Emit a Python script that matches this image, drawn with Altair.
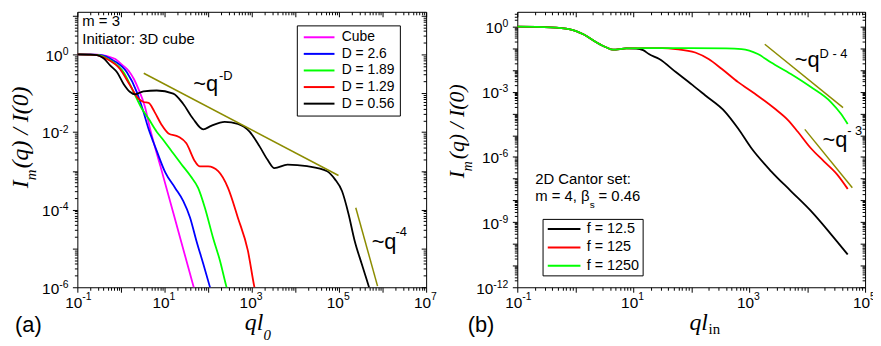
import altair as alt
import pandas as pd

SANS = "Liberation Sans"
SERIF = "Liberation Serif"
GOLD = "#8C8C00"

# ---------------- panel (a): log10(q l0) and log10(I_m(q)/I(0))
a_series = ["Cube", "D = 2.6", "D = 1.89", "D = 1.29", "D = 0.56"]
a_colors = ["#FF00FF", "#0000FF", "#00FF00", "#FF0000", "#000000"]

cube_lq = [-1.0, -0.7, -0.455, -0.3, -0.13, 0.03, 0.175, 0.30, 0.40, 0.55, 0.666, 0.90, 1.20, 1.66, 1.72]
cube_lI = [0.0, -0.002, -0.01, -0.05, -0.12, -0.27, -0.42, -0.64, -0.89, -1.35, -1.91, -2.86, -4.08, -5.96, -6.2]

blue_lq = [-1.0, -0.5, -0.166, 0.136, 0.364, 0.516, 0.63, 0.74, 0.825, 1.016, 1.243, 1.43, 1.584, 1.73, 1.886, 2.04, 2.08]
blue_lI = [0.0, -0.01, -0.16, -0.46, -0.97, -1.48, -1.91, -2.25, -2.50, -3.04, -3.44, -3.78, -4.20, -4.80, -5.39, -5.99, -6.15]

green_lq = [-1.0, -0.545, -0.25, 0.06, 0.29, 0.48, 0.636, 0.82, 0.94, 1.166, 1.386, 1.60, 1.77, 1.925, 2.11, 2.27, 2.42, 2.46]
green_lI = [0.0, -0.01, -0.15, -0.46, -0.97, -1.40, -1.66, -1.99, -2.16, -2.50, -2.83, -3.14, -3.44, -3.95, -4.715, -5.31, -5.99, -6.15]

red_lq = [-1.0, -0.61, -0.32, -0.023, 0.205, 0.40, 0.516, 0.636, 0.77, 0.93, 1.09, 1.32, 1.50, 1.70, 1.81, 2.0, 2.23, 2.455, 2.68, 2.91, 3.06, 3.10]
red_lI = [0.0, -0.01, -0.12, -0.375, -0.79, -1.14, -1.225, -1.25, -1.48, -1.81, -2.035, -2.12, -2.29, -2.76, -2.885, -2.885, -3.01, -3.44, -4.20, -5.05, -5.99, -6.2]

black_lq = [-1.0, -0.7, -0.55, -0.4, -0.243, -0.09, 0.06, 0.21, 0.325, 0.516, 0.82, 1.20, 1.425, 1.65, 1.886, 2.07, 2.38, 2.68, 2.95, 3.18, 3.36, 3.52, 3.82, 4.27, 4.73, 4.91, 5.07, 5.22, 5.36, 5.52, 5.69, 5.74]
black_lI = [0.0, -0.005, -0.02, -0.1, -0.29, -0.46, -0.76, -0.97, -1.03, -0.95, -0.93, -1.01, -1.27, -1.65, -1.93, -1.84, -1.74, -1.79, -1.99, -2.37, -2.71, -2.93, -2.84, -2.88, -3.01, -3.22, -3.52, -4.11, -4.80, -5.39, -6.0, -6.2]

# guide lines (~q^-D and ~q^-4)
a_guide_lq = [[0.523, 4.99], [5.386, 5.886]]
a_guide_lI = [[-0.485, -3.12], [-3.95, -5.97]]

# tick-label exponents
a_xlab = [-1, 1, 3, 5, 7]
a_ylab = [0, -2, -4, -6]

# ---------------- panel (b)
b_series = ["f = 12.5", "f = 125", "f = 1250"]
b_colors = ["#000000", "#FF0000", "#00FF00"]

common_lq = [-1.0, -0.43, -0.09, 0.14, 0.37, 0.54, 0.65, 0.88]
common_lI = [0.0, -0.03, -0.12, -0.35, -0.73, -0.96, -1.06, -1.00]

f12_lq = [1.05, 1.17, 1.27, 1.45, 1.735, 2.02, 2.24, 2.585, 2.81, 3.04, 3.38, 3.72, 4.065, 4.41, 4.70]
f12_lI = [-1.01, -1.08, -1.26, -1.49, -2.09, -2.68, -3.16, -3.92, -4.69, -5.60, -6.66, -7.57, -8.485, -9.55, -10.49]

f125_lq = [1.2, 1.5, 1.73, 2.07, 2.30, 2.53, 2.81, 3.10, 3.44, 3.67, 3.84, 4.065, 4.29, 4.52, 4.70]
f125_lI = [-0.99, -0.99, -1.03, -1.19, -1.49, -1.95, -2.555, -3.09, -3.77, -4.30, -4.84, -5.60, -6.20, -6.81, -7.47]

f1250_lq = [1.2, 2.0, 2.6, 2.87, 3.15, 3.38, 3.72, 4.065, 4.41, 4.58, 4.70]
f1250_lI = [-0.99, -0.99, -1.0, -1.03, -1.26, -1.65, -2.18, -2.78, -3.47, -4.0, -4.485]

b_guide_lq = [[3.27, 4.62], [3.96, 4.78]]
b_guide_lI = [[-0.81, -3.73], [-4.73, -7.42]]

b_xlab = [-1, 1, 3, 5]
b_ylab = [0, -3, -6, -9, -12]


def curves(names, lqs, lIs):
    rows = []
    for n, lq, lI in zip(names, lqs, lIs):
        for a, b in zip(lq, lI):
            rows.append({"series": n, "q": 10 ** a, "I": 10 ** b})
    return pd.DataFrame(rows)


def guides(lqs, lIs):
    rows = []
    for i, (lq, lI) in enumerate(zip(lqs, lIs)):
        for a, b in zip(lq, lI):
            rows.append({"seg": i, "q": 10 ** a, "I": 10 ** b})
    return pd.DataFrame(rows)


df_a = curves(a_series, [cube_lq, blue_lq, green_lq, red_lq, black_lq],
              [cube_lI, blue_lI, green_lI, red_lI, black_lI])
df_b = curves(b_series,
              [common_lq + f12_lq, common_lq + f125_lq, common_lq + f1250_lq],
              [common_lI + f12_lI, common_lI + f125_lI, common_lI + f1250_lI])
g_a = guides(a_guide_lq, a_guide_lI)
g_b = guides(b_guide_lq, b_guide_lI)

MAJOR = "abs(log(datum.value)/LN10 - round(log(datum.value)/LN10)) < 0.001"
TEN_FS = 15.5
EXP_FS = 10.5
CHARW = {"-": 0.333, **{str(d): 0.556 for d in range(10)}}


def tick_vals(lo, hi, top):
    return [m * 10.0 ** k for k in range(lo, hi + 1) for m in range(1, 10) if m * 10.0 ** k <= top * 1.0001]


def axis(vals, orient):
    inward = orient in ("top", "right")
    major, minor = (-5, -3) if inward else (5, 3)
    return alt.Axis(orient=orient, values=vals, title=None, grid=False, labels=False,
                    domainColor="black", domainWidth=1, tickColor="black", tickWidth=1,
                    tickSize={"condition": {"test": MAJOR, "value": major}, "value": minor})


def enc(chart, xs, ys, text):
    return chart.encode(x=alt.X("q:Q", scale=xs, axis=None),
                        y=alt.Y("I:Q", scale=ys, axis=None), text=text)


def xlabels(exps, xs, ys, ybot):
    d = pd.DataFrame({"q": [10.0 ** e for e in exps], "I": [ybot] * len(exps),
                      "ten": ["10"] * len(exps), "e": [str(e) for e in exps]})
    ten = enc(alt.Chart(d).mark_text(align="right", baseline="alphabetic", dx=5, dy=21,
                                     fontSize=TEN_FS, font=SANS, color="black"), xs, ys, "ten:N")
    ex = enc(alt.Chart(d).mark_text(align="left", baseline="alphabetic", dx=5, dy=13,
                                    fontSize=EXP_FS, font=SANS, color="black"), xs, ys, "e:N")
    return [ten, ex]


def ylabels(exps, xs, ys, xleft):
    d = pd.DataFrame({"q": [xleft] * len(exps), "I": [10.0 ** e for e in exps],
                      "e": [str(e) for e in exps]})
    layers = [enc(alt.Chart(d).mark_text(align="right", baseline="alphabetic", dx=-9, dy=0.5,
                                         fontSize=EXP_FS, font=SANS, color="black"), xs, ys, "e:N")]
    for e in exps:
        w = EXP_FS * sum(CHARW[c] for c in str(e))
        d1 = pd.DataFrame({"q": [xleft], "I": [10.0 ** e], "ten": ["10"]})
        layers.append(enc(alt.Chart(d1).mark_text(align="right", baseline="alphabetic", dx=-(9 + w),
                                                  dy=6.5, fontSize=TEN_FS, font=SANS, color="black"),
                          xs, ys, "ten:N"))
    return layers


def txt(q, I, text, xs, ys, **kw):
    d = pd.DataFrame({"q": [q], "I": [I], "t": [text]})
    base = dict(align="left", baseline="alphabetic", color="black", font=SANS)
    base.update(kw)
    return enc(alt.Chart(d).mark_text(**base), xs, ys, "t:N")


def E(v):
    return 10 ** v


# ---------------- build panel (a)
A_TOP = 10 ** 1.098
xs_a = alt.Scale(type="log", domain=[0.1, 1e7], nice=False)
ys_a = alt.Scale(type="log", domain=[1e-6, A_TOP], nice=False)
xv_a = tick_vals(-1, 7, 1e7)
yv_a = tick_vals(-6, 1, A_TOP)

lines_a = alt.Chart(df_a).mark_line(clip=True, strokeWidth=1.8, interpolate="monotone").encode(
    x=alt.X("q:Q", scale=xs_a, axis=axis(xv_a, "bottom")),
    y=alt.Y("I:Q", scale=ys_a, axis=axis(yv_a, "left")),
    color=alt.Color("series:N", scale=alt.Scale(domain=a_series, range=a_colors),
                    legend=alt.Legend(title=None, orient="none", legendX=221.5, legendY=13.7,
                                      strokeColor="black", fillColor="white", padding=5,
                                      labelFont=SANS, labelFontSize=14, labelColor="black",
                                      symbolType="M-1,0H5.2", symbolSize=100, symbolStrokeWidth=2,
                                      rowPadding=2.75, labelOffset=26.3)))
guide_a = alt.Chart(g_a).mark_line(clip=True, strokeWidth=1.5, color=GOLD).encode(
    x=alt.X("q:Q", scale=xs_a, axis=axis(xv_a, "top")),
    y=alt.Y("I:Q", scale=ys_a, axis=axis(yv_a, "right")),
    detail="seg:N")

ann_a = [
    txt(E(-0.886), E(0.728), "m = 3", xs_a, ys_a, fontSize=15),
    txt(E(-0.886), E(0.268), "Initiator: 3D cube", xs_a, ys_a, fontSize=15),
    txt(E(1.659), E(-0.932), "~q", xs_a, ys_a, fontSize=22),
    txt(E(2.25), E(-0.651), "-D", xs_a, ys_a, fontSize=13),
    txt(E(5.75), E(-5.004), "~q", xs_a, ys_a, fontSize=22),
    txt(E(6.295), E(-4.672), "-4", xs_a, ys_a, fontSize=13),
    txt(E(-2.43), E(-7.14), "(a)", xs_a, ys_a, fontSize=22),
    txt(E(2.84), E(-7.10), "ql", xs_a, ys_a, font=SERIF, fontStyle="italic", fontSize=24),
    txt(E(3.27), E(-7.35), "0", xs_a, ys_a, font=SERIF, fontStyle="italic", fontSize=15),
    txt(E(-2.136), E(-3.447), "I", xs_a, ys_a, font=SERIF, fontStyle="italic", fontSize=24, angle=270),
    txt(E(-1.955), E(-3.24), "m", xs_a, ys_a, font=SERIF, fontStyle="italic", fontSize=15, angle=270),
    txt(E(-2.136), E(-2.936), "(q) / I(0)", xs_a, ys_a, font=SERIF, fontStyle="italic", fontSize=24, angle=270),
]

panel_a = alt.layer(lines_a, guide_a, *ann_a,
                    *xlabels(a_xlab, xs_a, ys_a, 1e-6),
                    *ylabels(a_ylab, xs_a, ys_a, 0.1)).resolve_axis(
    x="independent", y="independent").properties(width=352, height=278)

# ---------------- build panel (b)
B_TOP = 10 ** 0.684
xs_b = alt.Scale(type="log", domain=[0.1, 1e5], nice=False)
ys_b = alt.Scale(type="log", domain=[1e-12, B_TOP], nice=False)
xv_b = tick_vals(-1, 5, 1e5)
yv_b = tick_vals(-12, 0, B_TOP)

lines_b = alt.Chart(df_b).mark_line(clip=True, strokeWidth=1.8, interpolate="monotone").encode(
    x=alt.X("q:Q", scale=xs_b, axis=axis(xv_b, "bottom")),
    y=alt.Y("I:Q", scale=ys_b, axis=axis(yv_b, "left")),
    color=alt.Color("series:N", scale=alt.Scale(domain=b_series, range=b_colors),
                    legend=alt.Legend(title=None, orient="none", legendX=25.5, legendY=209,
                                      strokeColor="black", fillColor="white", padding=3,
                                      labelFont=SANS, labelFontSize=14.5, labelColor="black",
                                      symbolType="M-1,0H5.6", symbolSize=100, symbolStrokeWidth=2,
                                      rowPadding=3.5, labelOffset=27)))
guide_b = alt.Chart(g_b).mark_line(clip=True, strokeWidth=1.5, color=GOLD).encode(
    x=alt.X("q:Q", scale=xs_b, axis=axis(xv_b, "top")),
    y=alt.Y("I:Q", scale=ys_b, axis=axis(yv_b, "right")),
    detail="seg:N")

ann_b = [
    txt(E(-0.692), E(-7.25), "2D Cantor set:", xs_b, ys_b, fontSize=15),
    txt(E(-0.692), E(-8.03), "m = 4, β", xs_b, ys_b, fontSize=15),
    txt(E(0.248), E(-8.33), "s", xs_b, ys_b, fontSize=10),
    txt(E(0.402), E(-8.03), "= 0.46", xs_b, ys_b, fontSize=15),
    txt(E(3.786), E(-1.87), "~q", xs_b, ys_b, fontSize=22),
    txt(E(4.214), E(-1.46), "D - 4", xs_b, ys_b, fontSize=13),
    txt(E(4.265), E(-5.52), "~q", xs_b, ys_b, fontSize=22),
    txt(E(4.692), E(-4.97), "- 3", xs_b, ys_b, fontSize=13),
    txt(E(-1.855), E(-14.04), "(b)", xs_b, ys_b, fontSize=22),
    txt(E(1.969), E(-13.96), "ql", xs_b, ys_b, font=SERIF, fontStyle="italic", fontSize=24),
    txt(E(2.30), E(-14.165), "in", xs_b, ys_b, font=SERIF, fontSize=15),
    txt(E(-1.923), E(-6.98), "I", xs_b, ys_b, font=SERIF, fontStyle="italic", fontSize=22, angle=270),
    txt(E(-1.786), E(-6.66), "m", xs_b, ys_b, font=SERIF, fontStyle="italic", fontSize=14, angle=270),
    txt(E(-1.923), E(-6.11), "(q) / I(0)", xs_b, ys_b, font=SERIF, fontStyle="italic", fontSize=22, angle=270),
]

panel_b = alt.layer(lines_b, guide_b, *ann_b,
                    *xlabels(b_xlab, xs_b, ys_b, 1e-12),
                    *ylabels(b_ylab, xs_b, ys_b, 0.1)).resolve_axis(
    x="independent", y="independent").properties(width=351, height=278)

chart = alt.hconcat(panel_a, panel_b, spacing=92, bounds="flush").resolve_scale(
    color="independent", x="independent", y="independent").properties(
    autosize=alt.AutoSizeParams(type="none"),
    padding={"left": 70, "top": 1, "right": 803, "bottom": 337}).configure_view(stroke=None)

chart.save("out.html", embed_options={"renderer": "svg", "actions": False})
